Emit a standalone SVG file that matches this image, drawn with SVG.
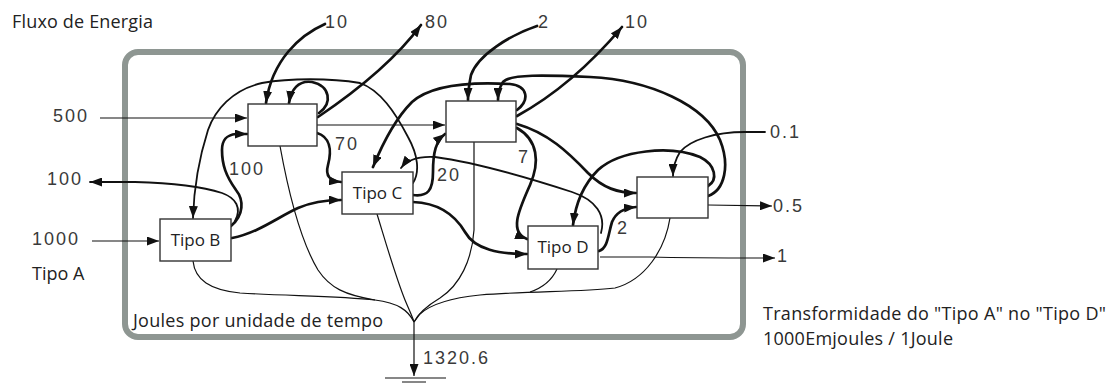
<svg xmlns="http://www.w3.org/2000/svg" width="1109" height="385" viewBox="0 0 1109 385">
<defs>
<marker id="ah" markerUnits="userSpaceOnUse" markerWidth="13" markerHeight="9" refX="12" refY="4.5" orient="auto">
<path d="M0,0 L12,4.5 L0,9 z" fill="#111"/>
</marker>
<style>
.frame{fill:none;stroke:#8e9692;stroke-width:6}
.box{fill:#fff;stroke:#333;stroke-width:1.4}
.k{fill:none;stroke:#111;stroke-width:2.7;stroke-linecap:round}
.m{fill:none;stroke:#111;stroke-width:1.8;stroke-linecap:round}
.t{fill:none;stroke:#111;stroke-width:1.2}
.a{marker-end:url(#ah)}
.num{font-family:"Liberation Sans",Arial,sans-serif;font-size:18px;letter-spacing:2px;fill:#3a3a3a}
.lbl{font-family:"Open Sans","Noto Sans",sans-serif;font-size:18px;fill:#222}
.nl{font-family:"Open Sans","Noto Sans",sans-serif;font-size:17px;fill:#222;text-anchor:middle}
</style>
</defs>
<rect width="1109" height="385" fill="#fff"/>
<rect class="frame" x="125" y="52" width="618" height="285" rx="13"/>

<g id="connectors">
<path class="t a" d="M100,118 L247,118"/>
<path class="t a" d="M92,241 L159,241"/>
<path class="t a" d="M317,125 L445,125"/>
<path class="t a" d="M708,205 L772,206"/>
<path class="t a" d="M600,257 L650,257 C690,258 730,258 775,258"/>
<path class="k a" d="M325,24 C300,35 272,60 266,103"/>
<path class="k a" d="M318,117 C355,92 395,60 421,25"/>
<path class="k a" d="M319,113 C333,103 330,86 312,82 C298,80 291,90 289,103"/>
<path class="m a" d="M413,183 C420,172 418,155 408,137 C395,112 380,90 360,83 C330,78 290,78 262,83 C232,90 215,110 208,130 C200,155 194,185 193,218"/>
<path class="k a" d="M231,226 C244,215 244,200 236,190 C226,176 222,165 222,150 C222,140 226,135 236,134 L247,134"/>
<path class="m a" d="M235,221 C242,208 236,198 222,193 C200,186 170,183 135,182 L90,182"/>
<path class="k a" d="M232,238 C258,233 278,217 298,208 C312,202 326,200 341,200"/>
<path class="k a" d="M317,133 C330,137 332,150 328,165 C325,176 330,181 341,182"/>
<path class="k a" d="M413,195 C428,197 433,190 433,172 C433,152 436,141 445,134"/>
<path class="m a" d="M601,233 C606,215 596,200 572,192 C535,180 480,163 435,157 C418,156 407,160 401,168"/>
<path class="k a" d="M517,128 C538,140 540,162 530,185 C520,208 508,232 527,239"/>
<path class="k a" d="M517,124 C548,133 568,152 588,173 C603,188 618,193 636,193"/>
<path class="k a" d="M413,202 C440,203 455,215 465,232 C475,250 500,254 527,254"/>
<path class="k a" d="M599,251 C608,248 608,235 612,222 C616,212 625,208 636,207"/>
<path class="k a" d="M708,186 C718,180 716,165 700,157 C670,145 620,150 598,170 C585,183 576,200 573,225"/>
<path class="m a" d="M765,132 L745,132 C715,132 690,140 680,152 C675,160 673,168 673,176"/>
<path class="k a" d="M708,196 C725,190 730,165 720,140 C705,105 650,80 590,77 C545,75 510,74 503,82 C499,88 498,94 498,100"/>
<path class="k a" d="M537,26 C510,35 478,55 471,75 C469,85 468,92 468,100"/>
<path class="k a" d="M517,116 C555,95 590,65 622,27"/>
<path class="k a" d="M517,110 C530,100 528,86 510,84 C475,82 432,84 412,102 C396,118 382,145 373,167"/>
<path class="t" d="M193,261 C195,280 210,290 240,293 C290,296 340,296 375,300 C398,303 408,310 414,322"/>
<path class="t" d="M280,146 C288,190 300,240 318,270 C330,288 345,295 375,300"/>
<path class="t" d="M377,214 C385,240 395,275 405,300 C410,312 413,318 414,322"/>
<path class="t" d="M474,142 L474,230 C472,260 460,285 440,298 C425,307 418,314 414,322"/>
<path class="t" d="M670,218 C665,250 645,280 615,288 C580,292 530,291 480,295 C450,298 430,305 420,314 L414,322"/>
<path class="t" d="M557,269 C552,280 542,288 530,292"/>
<path class="t a" d="M414,322 L414,376"/>
<path class="t" d="M385,378 L446,378 M402,382 L426,382"/>
</g>

<g id="box1"><rect class="box" x="248" y="104" width="69" height="42"/></g>
<g id="box2"><rect class="box" x="446" y="101" width="70" height="41"/></g>
<g id="box4"><rect class="box" x="637" y="177" width="71" height="41"/></g>
<g id="tipoB"><rect class="box" x="160" y="219" width="71" height="42"/><text class="nl" x="195.5" y="246">Tipo B</text></g>
<g id="tipoC"><rect class="box" x="342" y="172" width="71" height="42"/><text class="nl" x="377.5" y="199">Tipo C</text></g>
<g id="tipoD"><rect class="box" x="528" y="226" width="70" height="43"/><text class="nl" x="563" y="253">Tipo D</text></g>

<g id="labels">
<text class="lbl" x="12" y="28" textLength="141">Fluxo de Energia</text>
<text class="lbl" x="32" y="280">Tipo A</text>
<text class="lbl" x="133" y="327" textLength="250">Joules por unidade de tempo</text>
<text class="lbl" x="763" y="320" textLength="343">Transformidade do "Tipo A" no "Tipo D"</text>
<text class="lbl" x="763" y="345" textLength="190">1000Emjoules / 1Joule</text>
<text class="num" x="325" y="28">10</text>
<text class="num" x="425" y="28">80</text>
<text class="num" x="538" y="28">2</text>
<text class="num" x="625" y="28">10</text>
<text class="num" x="53" y="122">500</text>
<text class="num" x="47" y="185">100</text>
<text class="num" x="32" y="245">1000</text>
<text class="num" x="229" y="175">100</text>
<text class="num" x="335" y="150">70</text>
<text class="num" x="437" y="181">20</text>
<text class="num" x="518" y="163">7</text>
<text class="num" x="617" y="234">2</text>
<text class="num" x="770" y="138">0.1</text>
<text class="num" x="773" y="212">0.5</text>
<text class="num" x="777" y="262">1</text>
<text class="num" x="423" y="364">1320.6</text>
</g>
</svg>
